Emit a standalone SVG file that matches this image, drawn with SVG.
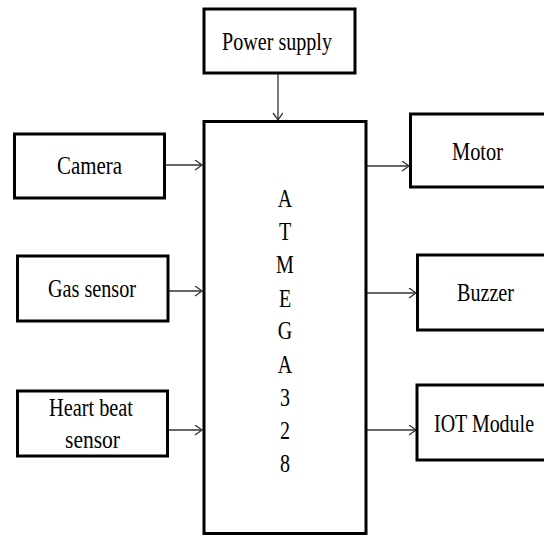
<svg xmlns="http://www.w3.org/2000/svg" width="544" height="535" viewBox="0 0 544 535">
<style>
.box{fill:#fff;stroke:#000;stroke-width:3}
.lbl{font-family:"Liberation Serif","Times New Roman",serif;font-size:25px;fill:#000}
.conn{stroke:#333;stroke-width:1.3;fill:none;marker-end:url(#ah)}
</style>
<defs>
<marker id="ah" markerUnits="userSpaceOnUse" markerWidth="10" markerHeight="12" refX="8" refY="5" orient="auto">
<path d="M1,0 L8,5 L1,10" fill="none" stroke="#333" stroke-width="1.3"/>
</marker>
</defs>
<rect width="544" height="535" fill="#fff"/>
<g id="connectors">
<line class="conn" x1="278" y1="73" x2="278" y2="120"/>
<line class="conn" x1="164" y1="165" x2="202" y2="165"/>
<line class="conn" x1="168" y1="291" x2="202" y2="291"/>
<line class="conn" x1="168" y1="430" x2="202" y2="430"/>
<line class="conn" x1="367" y1="166" x2="409" y2="166"/>
<line class="conn" x1="367" y1="293" x2="416" y2="293"/>
<line class="conn" x1="367" y1="430" x2="416" y2="430"/>
</g>
<g id="power">
<rect class="box" x="204" y="9" width="151" height="64"/>
<text class="lbl" x="222" y="50" textLength="110" lengthAdjust="spacingAndGlyphs">Power supply</text>
</g>
<g id="atmega">
<rect class="box" x="204" y="121.5" width="162" height="412"/>
<g transform="translate(285,0) scale(0.8,1)">
<text class="lbl" x="0" y="207" text-anchor="middle">A</text>
<text class="lbl" x="0" y="240" text-anchor="middle">T</text>
<text class="lbl" x="0" y="273" text-anchor="middle">M</text>
<text class="lbl" x="0" y="307" text-anchor="middle">E</text>
<text class="lbl" x="0" y="339" text-anchor="middle">G</text>
<text class="lbl" x="0" y="373" text-anchor="middle">A</text>
<text class="lbl" x="0" y="406" text-anchor="middle">3</text>
<text class="lbl" x="0" y="439" text-anchor="middle">2</text>
<text class="lbl" x="0" y="472" text-anchor="middle">8</text>
</g>
</g>
<g id="camera">
<rect class="box" x="14.5" y="134" width="150" height="64"/>
<text class="lbl" x="57" y="174" textLength="65" lengthAdjust="spacingAndGlyphs">Camera</text>
</g>
<g id="gas">
<rect class="box" x="17.5" y="256" width="150.5" height="65"/>
<text class="lbl" x="48" y="297" textLength="88" lengthAdjust="spacingAndGlyphs">Gas sensor</text>
</g>
<g id="heart">
<rect class="box" x="17.5" y="391" width="150" height="65"/>
<text class="lbl" x="49" y="416" textLength="84" lengthAdjust="spacingAndGlyphs">Heart beat</text>
<text class="lbl" x="65" y="448" textLength="55" lengthAdjust="spacingAndGlyphs">sensor</text>
</g>
<g id="motor">
<rect class="box" x="410.5" y="114" width="150" height="73"/>
<text class="lbl" x="452" y="160" textLength="51" lengthAdjust="spacingAndGlyphs">Motor</text>
</g>
<g id="buzzer">
<rect class="box" x="417.5" y="255" width="150" height="75"/>
<text class="lbl" x="457" y="301" textLength="57" lengthAdjust="spacingAndGlyphs">Buzzer</text>
</g>
<g id="iot">
<rect class="box" x="417" y="385" width="150" height="75"/>
<text class="lbl" x="434" y="432" textLength="100" lengthAdjust="spacingAndGlyphs">IOT Module</text>
</g>
</svg>
